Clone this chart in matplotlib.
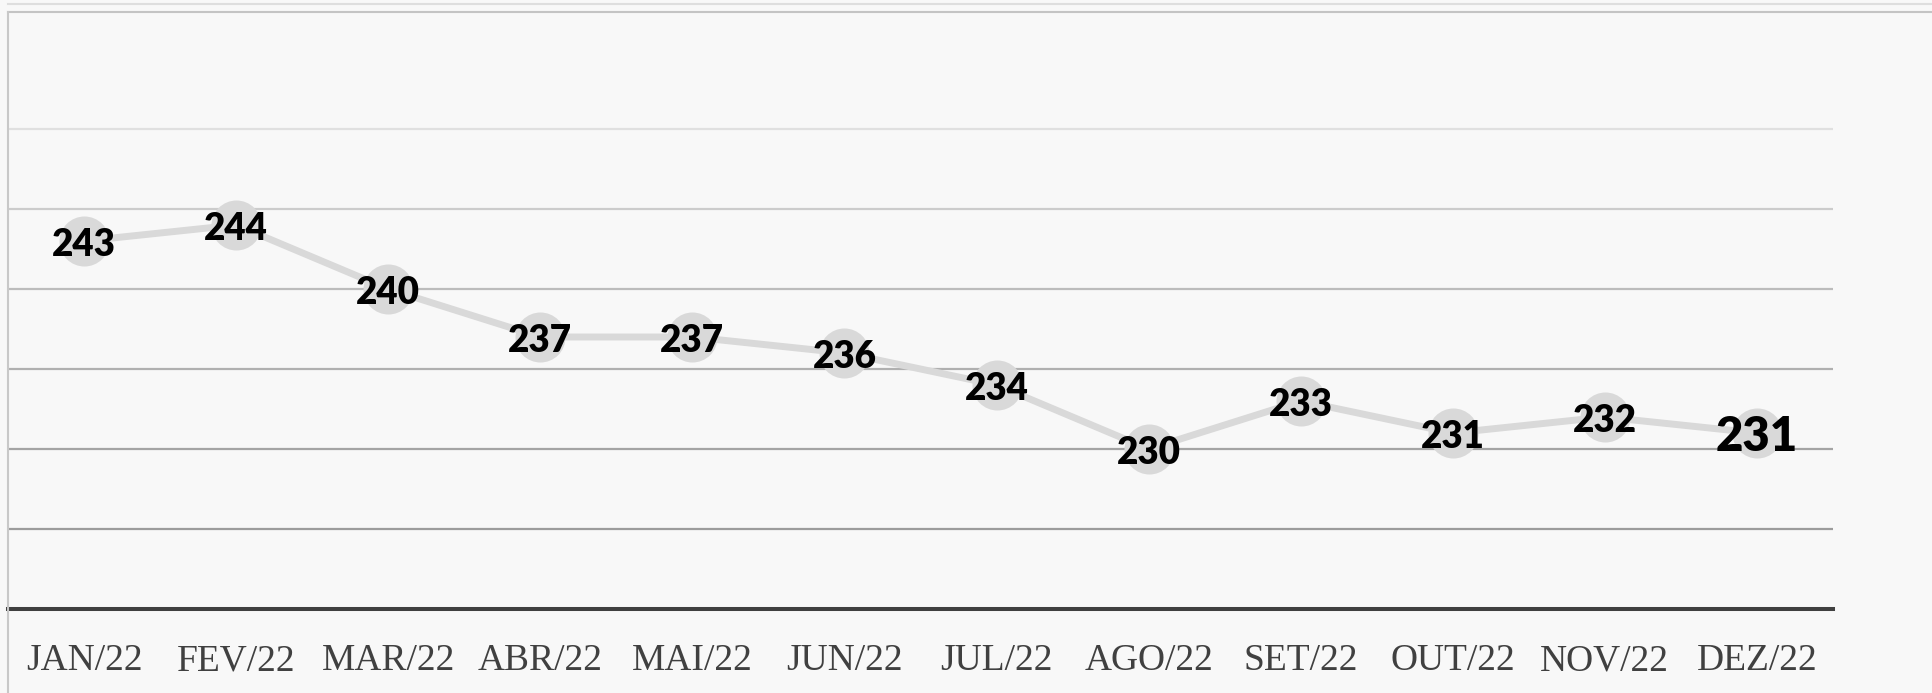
import matplotlib.pyplot as plt
from matplotlib.lines import Line2D
from matplotlib.transforms import offset_copy

meses = ["JAN/22", "FEV/22", "MAR/22", "ABR/22", "MAI/22", "JUN/22",
         "JUL/22", "AGO/22", "SET/22", "OUT/22", "NOV/22", "DEZ/22"]
valores = [243, 244, 240, 237, 237, 236, 234, 230, 233, 231, 232, 231]
grades = [225, 230, 235, 240, 245, 250]
cor_grade = ["#9c9c9c", "#a4a4a4", "#b0b0b0", "#bcbcbc", "#cccccc", "#e0e0e0"]

W, H = 1933, 693
fig = plt.figure(figsize=(W / 100, H / 100), dpi=100)
fig.patch.set_facecolor("#f8f8f8")

# area do grafico: de x=8 ate x=1833, de y=12 ate o eixo em y=609 (pixels)
ax = fig.add_axes([8 / W, (H - 609) / H, 1825 / W, 597 / H])
ax.set_facecolor("none")
ax.set_xlim(-0.5, len(meses) - 0.5)
ax.set_ylim(220, 220 + 597 / 16)

for g, c in zip(grades, cor_grade):
    ax.axhline(g, color=c, lw=1.6, zorder=1)

x = list(range(len(meses)))
ax.plot(x, valores, color="#d9d9d9", lw=5, zorder=2,
        marker="o", markersize=36, markerfacecolor="#d9d9d9", markeredgecolor="none")

desloc = offset_copy(ax.transData, fig=fig, x=0, y=-3, units="points")
for i, v in enumerate(valores):
    tam = 34 if i == len(valores) - 1 else 26.5
    ax.text(i, v, str(v), ha="center", va="center", fontsize=tam, transform=desloc,
            fontweight="heavy", family="Lato", color="black", zorder=3)

for s in ["top", "right", "left"]:
    ax.spines[s].set_visible(False)
ax.spines["bottom"].set_color("#404040")
ax.spines["bottom"].set_linewidth(2.9)
ax.set_yticks([])
ax.set_xticks(x)
ax.set_xticklabels(meses, family="Liberation Serif", fontsize=27, color="#404040")
ax.tick_params(axis="x", length=0, pad=25)

# moldura da figura
fig.add_artist(Line2D([8 / W, 1], [1 - 4 / H, 1 - 4 / H], color="#dedede", lw=1.5))
fig.add_artist(Line2D([8 / W, 1], [1 - 12 / H, 1 - 12 / H], color="#c4c4c4", lw=1.5))
fig.add_artist(Line2D([8 / W, 8 / W], [0, 1 - 12 / H], color="#c8c8c8", lw=1.5))

fig.savefig("out.png", dpi=100, facecolor=fig.get_facecolor())
